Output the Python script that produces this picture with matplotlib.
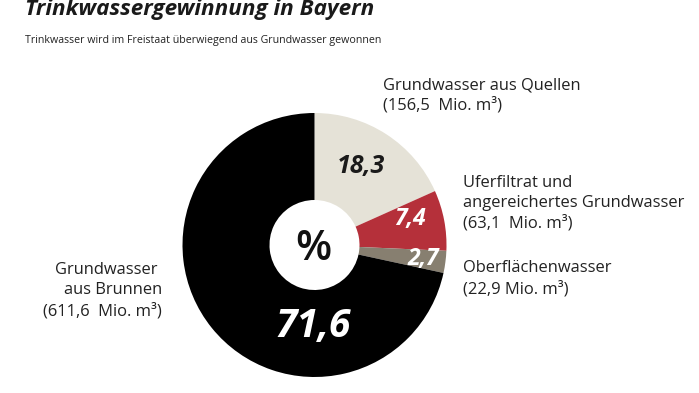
import matplotlib
matplotlib.use("Agg")
from matplotlib import pyplot as plt

# data
shares = [18.3, 7.4, 2.7, 71.6]
share_labels = ["18,3", "7,4", "2,7", "71,6"]
colors = ["#e5e2d7", "#b5303a", "#877f70", "#000000"]
title = "Trinkwassergewinnung in Bayern"
subtitle = "Trinkwasser wird im Freistaat überwiegend aus Grundwasser gewonnen"
side_labels = [
    "Grundwasser aus Quellen\n(156,5  Mio. m³)",
    "Uferfiltrat und\nangereichertes Grundwasser\n(63,1  Mio. m³)",
    "Oberflächenwasser\n(22,9 Mio. m³)",
    "Grundwasser \naus Brunnen\n(611,6  Mio. m³)",
]

W, H = 699, 393
plt.rcParams['font.family'] = ['Open Sans', 'DejaVu Sans']

fig = plt.figure(figsize=(W / 100, H / 100), dpi=100)
ax = fig.add_axes([0, 0, 1, 1])
ax.set_xlim(0, W)
ax.set_ylim(0, H)
ax.set_aspect('equal')
ax.axis('off')

def px(v):
    # pixel size -> points
    return v * 0.72

cx, cy, R, hole = 314.5, H - 245, 132, 45
ax.pie(shares, colors=colors, startangle=90, counterclock=False,
       center=(cx, cy), radius=R,
       wedgeprops=dict(width=R - hole, edgecolor='none'))
ax.set_xlim(0, W)
ax.set_ylim(0, H)

ax.text(25, H - 15, title, fontsize=px(22.5), fontweight='bold', style='italic',
        color='#1a1a1a', va='baseline')
ax.text(25, H - 43, subtitle, fontsize=px(10.6), color='#222222', va='baseline')

# values inside the ring
ax.text(cx - 1, cy - 4, "%", fontsize=px(42), fontweight='semibold',
        color='#111111', ha='center', va='center')
inner = [(361, 167, 25, '#1a1a1a'), (410, 219, 23, 'white'),
         (423, 259, 23, 'white'), (313, 326, 39, 'white')]
for lab, (x, y, s, c) in zip(share_labels, inner):
    ax.text(x, H - y, lab, fontsize=px(s), fontweight='bold', style='italic',
            color=c, ha='center', va='center')

# side labels (y = baseline of the last line)
lab_fs = px(16.5)
kw = dict(fontsize=lab_fs, color='#222222', va='baseline', linespacing=1.35)
ax.text(383, H - 110, side_labels[0], **kw)
ax.text(463, H - 228, side_labels[1], **kw)
ax.text(463, H - 293, side_labels[2], **kw)
ax.text(162, H - 315, side_labels[3], ha='right', multialignment='right', **kw)

fig.savefig("out.png", dpi=100, facecolor='white')
